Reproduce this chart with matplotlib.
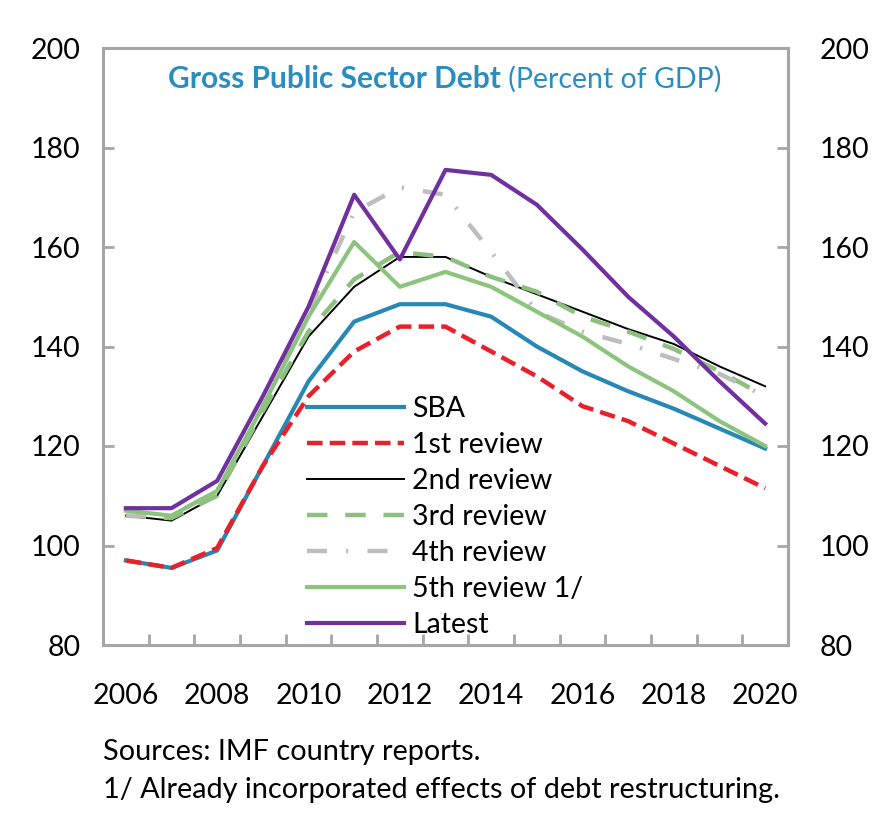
import matplotlib.pyplot as plt

plt.rcParams['font.family'] = ['Lato', 'DejaVu Sans']

# data (percent of GDP)
years = list(range(2006, 2021))
sba = [97, 95.5, 99, 116, 133, 145, 148.5, 148.5, 146, 140, 135, 131, 127.5, 123.5, 119.5]
review_1 = [97, 95.5, 99.5, 116, 130, 139, 144, 144, 139, 134, 128, 125, 120.5, 116, 111.5]
review_2 = [106, 105, 110, 126, 142, 152, 158, 158, 154, 150.5, 147, 143.5, 140.5, 136, 132]
review_3 = [106, 105.5, 110, 127, 143, 153.5, 159, 158, 154, 151, 146, 143, 139.5, 135, 130]
review_4 = [106, 106, 111, 128, 147, 167, 172, 170.5, 159, 147, 143, 140.5, 137.5, 134.5, 130]
review_5 = [107, 106, 111, 128, 146, 161, 152, 155, 152, 147, 142, 136, 131, 125, 120]
latest = [107.5, 107.5, 113, 130, 148, 170.5, 157.5, 175.5, 174.5, 168.5, 159.5, 150, 142, 133, 124.5]

grey = "#a6a6a6"
blue_title = "#2a8dbf"

fig = plt.figure(figsize=(8.88, 8.24), dpi=100)
ax = fig.add_axes([103 / 888, 1 - 645 / 824, 685 / 888, 597 / 824])

ax.plot(years, sba, color="#2787b5", lw=3.0, label="SBA")
ax.plot(years, review_1, color="#e8202a", lw=3.2, dashes=(3.5, 1.6), label="1st review")
ax.plot(years, review_2, color="black", lw=1.4, label="2nd review")
ax.plot(years, review_3, color="#8dbf7e", lw=3.2, dashes=(4.6, 4.0), label="3rd review")
ax.plot(years, review_4, color="#bdbdbd", lw=3.2, dashes=(4.5, 4.3, 0.5, 4.3), label="4th review")
ax.plot(years, review_5, color="#8cc47e", lw=3.0, label="5th review 1/")
ax.plot(years, latest, color="#7030a0", lw=3.0, label="Latest")

ax.set_xlim(2005.5, 2020.5)
ax.set_ylim(80, 200)
ax.set_xticks([y + 0.5 for y in years[:-1]])
ax.set_xticks(years[::2], minor=True)
ax.set_xticklabels(years[::2], minor=True)
ax.set_xticklabels([])
ax.tick_params(axis="x", which="major", direction="in", length=8, width=2, color=grey)
ax.tick_params(axis="x", which="minor", length=0, pad=27, labelsize=20.5)
ax.set_yticks(range(80, 201, 20))
ax.tick_params(axis="y", direction="in", length=8, width=2, color=grey,
               labelsize=20.5, pad=16)
for s in ax.spines.values():
    s.set_color(grey)
    s.set_linewidth(2.2)

# right-hand scale, same values, set a bit further out
ax2 = ax.twinx()
ax2.set_ylim(80, 200)
ax2.set_yticks(range(80, 201, 20))
ax2.tick_params(axis="y", direction="in", length=8, width=2, color=grey,
                labelsize=20.5, pad=23)
for s in ax2.spines.values():
    s.set_visible(False)

t1 = ax.text(168 / 888, 1 - 88 / 824, "Gross Public Sector Debt", transform=fig.transFigure,
             fontsize=21.5, fontweight="bold", color=blue_title, va="baseline")
ax.annotate(" (Percent of GDP)", xy=(1, 0), xycoords=t1, fontsize=20.5,
            color=blue_title, va="bottom")

ax.legend(loc="upper left", bbox_to_anchor=(307 / 888, 1 - 396 / 824),
          bbox_transform=fig.transFigure, frameon=False, fontsize=20.5,
          handlelength=3.4, handletextpad=0.3, labelspacing=0.35,
          borderpad=0, borderaxespad=0)

fig.text(103 / 888, 1 - 760 / 824, "Sources: IMF country reports.", fontsize=20.8)
fig.text(103 / 888, 1 - 798 / 824, "1/ Already incorporated effects of debt restructuring.", fontsize=20.8)

fig.savefig("out.png", dpi=100)
